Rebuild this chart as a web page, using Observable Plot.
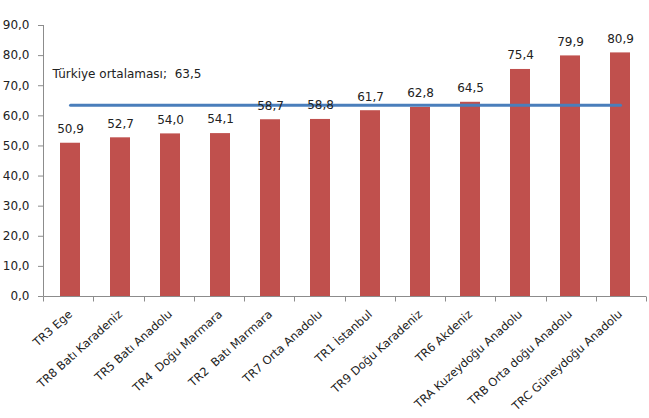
<!DOCTYPE html>
<html>
<head>
<meta charset="utf-8">
<script src="https://cdn.jsdelivr.net/npm/d3@7"></script>
<script src="https://cdn.jsdelivr.net/npm/@observablehq/plot@0.6"></script>
<style>
  html, body { margin: 0; padding: 0; background: #fff; }
  svg { font-family: "DejaVu Sans", sans-serif; }
</style>
</head>
<body>
<div id="chart"></div>
<script>
const categories = [
  "TR3 Ege", "TR8 Batı Karadeniz", "TR5 Batı Anadolu", "TR4  Doğu Marmara",
  "TR2  Batı Marmara", "TR7 Orta Anadolu", "TR1 İstanbul", "TR9 Doğu Karadeniz",
  "TR6 Akdeniz", "TRA Kuzeydoğu Anadolu", "TRB Orta doğu Anadolu", "TRC Güneydoğu Anadolu"
];
const values = [50.9, 52.7, 54.0, 54.1, 58.7, 58.8, 61.7, 62.8, 64.5, 75.4, 79.9, 80.9];
const average = 63.5;
const averageLabel = "Türkiye ortalaması;  63,5";
const averageLabelY = 74;
const yTicks = [0, 10, 20, 30, 40, 50, 60, 70, 80, 90];

const data = categories.map((c, i) => ({category: c, value: values[i]}));
const fmt = d => d.toFixed(1).replace(".", ",");
const first = categories[0];
const last = categories[categories.length - 1];

const axisLines = (index, scales, values, dimensions) => {
  const {width, marginLeft, marginRight} = dimensions;
  const g = d3.create("svg:g").attr("stroke", "#8c8c8c").attr("stroke-width", 1);
  const y0 = Math.round(scales.y(0)) + 0.5;
  const x0 = marginLeft + 0.5;
  const x1 = width - marginRight;
  g.append("line").attr("x1", x0).attr("x2", x0).attr("y1", scales.y(90)).attr("y2", y0);
  g.append("line").attr("x1", x0).attr("x2", x1).attr("y1", y0).attr("y2", y0);
  const n = categories.length;
  for (let i = 0; i <= n; i++) {
    const xp = Math.round(marginLeft + i * (x1 - marginLeft) / n) + 0.5;
    g.append("line").attr("x1", xp).attr("x2", xp).attr("y1", y0).attr("y2", y0 + 5);
  }
  return g.node();
};

const chart = Plot.plot({
  width: 649,
  height: 418,
  marginLeft: 43,
  marginRight: 3,
  marginTop: 25,
  marginBottom: 122,
  style: {fontFamily: "DejaVu Sans, sans-serif", background: "#fff"},
  x: {domain: categories, paddingInner: 0.6, paddingOuter: 0.3, label: null},
  y: {domain: [0, 90], label: null},
  marks: [
    Plot.barY(data, {x: "category", y: "value", fill: "#c0504d"}),
    Plot.lineY([first, last], {x: d => d, y: () => average, stroke: "#4a7ebb", strokeWidth: 3}),
    Plot.text(data, {x: "category", y: "value", text: d => fmt(d.value), dy: -14, fontSize: 12, fill: "#222"}),
    Plot.text([averageLabel], {x: () => first, y: () => averageLabelY, text: d => d, textAnchor: "start", dx: -18, fontSize: 12, fill: "#222"}),
    Plot.axisY({ticks: yTicks, tickFormat: fmt, tickSize: 5, tickPadding: 9, fontSize: 12, color: "#222", stroke: "#8c8c8c", label: null}),
    Plot.axisX({tickSize: 0, tickRotate: -42, tickPadding: 16, fontSize: 11.5, color: "#222", dx: 0, label: null}),
    axisLines
  ]
});
document.getElementById("chart").appendChild(chart);
</script>
</body>
</html>
